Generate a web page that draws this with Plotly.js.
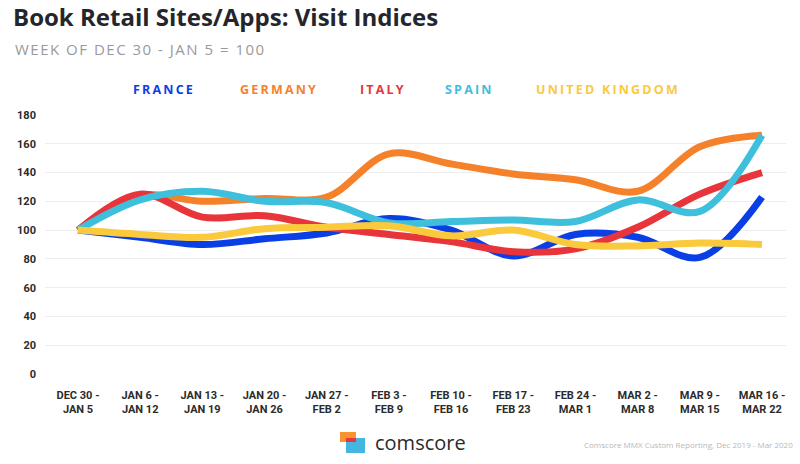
<!DOCTYPE html>
<html>
<head>
<meta charset="utf-8">
<script src="https://cdn.plot.ly/plotly-3.0.1.min.js"></script>
<style>
  html, body { margin: 0; padding: 0; background: #fff; }
  #chart { width: 800px; height: 464px; }
</style>
</head>
<body>
<div id="chart"></div>
<script>
// ---- Data ----
const weeks = ["DEC 30 -<br>JAN 5", "JAN 6 -<br>JAN 12", "JAN 13 -<br>JAN 19", "JAN 20 -<br>JAN 26",
  "JAN 27 -<br>FEB 2", "FEB 3 -<br>FEB 9", "FEB 10 -<br>FEB 16", "FEB 17 -<br>FEB 23",
  "FEB 24 -<br>MAR 1", "MAR 2 -<br>MAR 8", "MAR 9 -<br>MAR 15", "MAR 16 -<br>MAR 22"];
const france  = [100, 95, 90, 94, 98, 108, 100, 82, 97, 95, 81, 123];
const germany = [100, 124, 120, 122, 123, 153, 146, 139, 135, 127, 158, 166];
const italy   = [100, 125, 109, 110, 102, 97, 92, 85, 87, 102, 125, 140];
const spain   = [100, 121, 127, 120, 119, 105, 106, 107, 106, 121, 113, 166];
const uk      = [100, 97, 95, 101, 102, 103, 96, 100, 90, 89, 91, 90];
const seriesNames = ["FRANCE", "GERMANY", "ITALY", "SPAIN", "UNITED KINGDOM"];
const yTicks = [0, 20, 40, 60, 80, 100, 120, 140, 160, 180];

// ---- Styles ----
const colors = ["#0a3fe6", "#f5822b", "#e8353b", "#3ec0dc", "#fbc93c"];
const seriesValues = [france, germany, italy, spain, uk];
const idx = weeks.map((_, i) => i);

const W = 800, H = 464;
const M = { l: 45, r: 14, t: 115, b: 90 };
const PW = W - M.l - M.r, PH = H - M.t - M.b;
const px = x => (x - M.l) / PW;          // pixel -> paper x
const py = y => (H - M.b - y) / PH;      // pixel -> paper y

const traces = seriesValues.map((vals, k) => ({
  x: idx, y: vals, type: "scatter", mode: "lines", name: seriesNames[k],
  line: { color: colors[k], width: 7, shape: "spline", smoothing: 1 },
  hoverinfo: "skip", showlegend: false
}));

const legendX = [131, 238, 358, 443, 534];
const annotations = [
  { text: "WEEK OF DEC 30 - JAN 5 = 100", xref: "paper", yref: "paper", x: px(13), y: py(49),
    xanchor: "left", yanchor: "middle", showarrow: false,
    font: { family: "Open Sans, sans-serif", size: 15, color: "#9a9a9a" } },
  ...seriesNames.map((n, k) => ({
    text: n, xref: "paper", yref: "paper", x: px(legendX[k]), y: py(89),
    xanchor: "left", yanchor: "middle", showarrow: false,
    font: { family: "Open Sans, sans-serif", size: 12.5, color: colors[k], weight: "bold" } })),
  { text: "comscore", xref: "paper", yref: "paper", x: px(373), y: py(442),
    xanchor: "left", yanchor: "middle", showarrow: false,
    font: { family: "Open Sans, sans-serif", size: 20, color: "#2a2a2a" } },
  { text: "Comscore MMX Custom Reporting, Dec 2019 - Mar 2020", xref: "paper", yref: "paper",
    x: px(795), y: py(444), xanchor: "right", yanchor: "middle", showarrow: false,
    font: { family: "Open Sans, sans-serif", size: 8, color: "#b8b8b8" } }
];

const shapes = [
  { type: "rect", xref: "paper", yref: "paper", x0: px(340), x1: px(356), y0: py(442), y1: py(432),
    fillcolor: "#f7942f", line: { width: 0 } },
  { type: "rect", xref: "paper", yref: "paper", x0: px(346), x1: px(365), y0: py(453), y1: py(438),
    fillcolor: "#45b6e0", line: { width: 0 } },
  { type: "rect", xref: "paper", yref: "paper", x0: px(346), x1: px(356), y0: py(442), y1: py(438),
    fillcolor: "#e8363c", line: { width: 0 } }
];

const layout = {
  width: W, height: H, margin: M,
  paper_bgcolor: "#fff", plot_bgcolor: "#fff",
  title: { text: "Book Retail Sites/Apps: Visit Indices", xref: "container", yref: "container",
    x: 13 / W, y: 1 - 18 / H, xanchor: "left", yanchor: "middle",
    font: { family: "Open Sans, sans-serif", size: 24, color: "#24262b", weight: "bold" } },
  xaxis: { range: [-0.531, 11.386], tickvals: idx, ticktext: weeks, showgrid: false,
    zeroline: false, showline: false, ticks: "", ticklabelstandoff: 13,
    tickfont: { family: "Roboto, sans-serif", size: 11, color: "#2b2b2b", weight: "bold" } },
  yaxis: { range: [0, 180], tickvals: yTicks, showgrid: true, gridcolor: "#ededed", gridwidth: 1,
    zeroline: false, showline: false, ticks: "", ticklabelstandoff: 8,
    tickfont: { family: "Roboto, sans-serif", size: 11, color: "#2b2b2b", weight: "bold" } },
  annotations: annotations, shapes: shapes, hovermode: false
};

Plotly.newPlot("chart", traces, layout, { displayModeBar: false, staticPlot: true }).then(() => {
  const groups = document.querySelectorAll("#chart g.annotation");
  groups.forEach(g => {
    const i = +g.getAttribute("data-index");
    const t = g.querySelector("text");
    if (!t) return;
    let ls = null;
    if (i === 0) ls = "1.5px";
    else if (i >= 1 && i <= 5) ls = "2.2px";
    if (!ls) return;
    const b0 = t.getBBox();
    t.style.letterSpacing = ls;
    const b1 = t.getBBox();
    const x = parseFloat(t.getAttribute("x")) || 0;
    t.setAttribute("x", x + (b0.x - b1.x));
  });
});
</script>
</body>
</html>
